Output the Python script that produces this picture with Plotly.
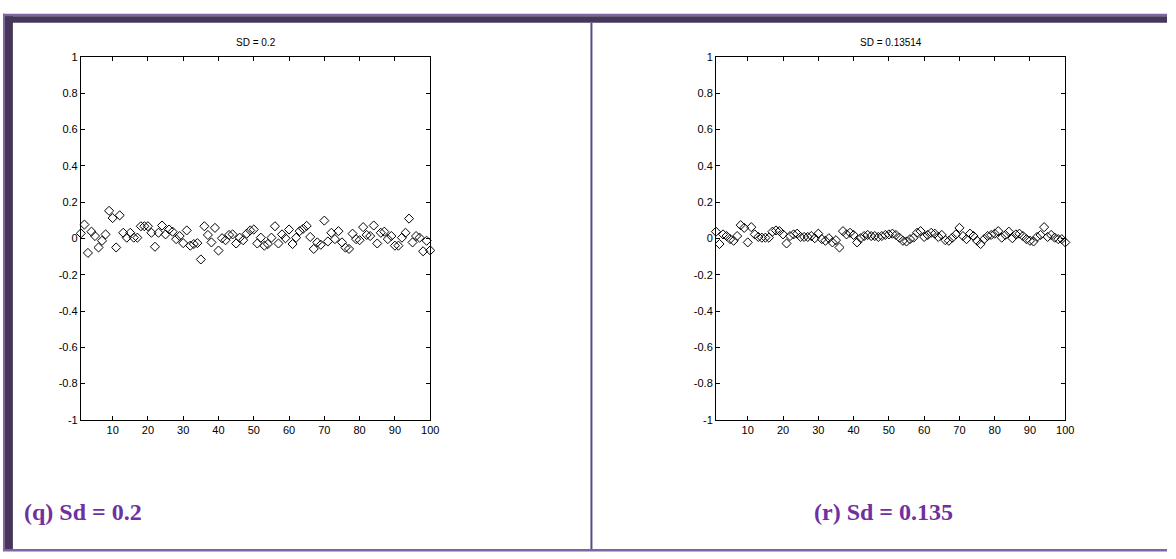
import plotly.graph_objects as go

# Sample index for both panels
idx = list(range(1, 101))

# Panel (q): SD = 0.2
sd_high = [
    0.028, 0.076, -0.080, 0.037, 0.013, -0.050, -0.013, 0.022, 0.152, 0.112,
    -0.050, 0.127, 0.031, 0.004, 0.031, 0.004, 0.004, 0.067, 0.067, 0.067,
    0.031, -0.046, 0.031, 0.071, 0.022, 0.049, 0.037, -0.004, 0.013, -0.026,
    0.044, -0.040, -0.031, -0.026, -0.116, 0.067, 0.019, -0.022, 0.058, -0.067,
    0.001, -0.010, 0.019, 0.022, -0.028, 0.004, -0.010, 0.026, 0.044, 0.049,
    -0.028, 0.004, -0.040, -0.031, 0.004, 0.067, -0.028, 0.022, 0.001, 0.049,
    -0.031, 0.004, 0.040, 0.053, 0.069, 0.008, -0.058, -0.022, -0.035, 0.098,
    -0.017, 0.031, -0.004, 0.040, -0.022, -0.051, -0.058, 0.026, -0.004, -0.010,
    0.062, 0.019, 0.013, 0.071, -0.028, 0.031, 0.037, -0.004, 0.013, -0.040,
    -0.040, 0.004, 0.031, 0.109, -0.022, 0.013, 0.004, -0.071, -0.013, -0.066,
]

# Panel (r): SD = 0.13514
sd_low = [
    0.037, -0.031, 0.022, 0.013, -0.004, -0.013, 0.013, 0.073, 0.058, -0.022,
    0.062, 0.022, 0.008, 0.004, 0.004, 0.004, 0.037, 0.044, 0.040, 0.022,
    -0.028, 0.013, 0.022, 0.026, 0.008, 0.008, 0.008, 0.013, 0.001, 0.026,
    -0.004, -0.013, 0.001, -0.022, -0.010, -0.050, 0.040, 0.022, 0.031, 0.019,
    -0.022, 0.001, 0.013, 0.019, 0.013, 0.013, 0.008, 0.013, 0.019, 0.022,
    0.026, 0.019, 0.004, -0.013, -0.017, -0.004, 0.004, 0.031, 0.040, 0.008,
    0.019, 0.031, 0.026, 0.008, 0.019, -0.010, -0.013, 0.004, 0.022, 0.058,
    0.013, -0.004, 0.026, 0.013, -0.013, -0.031, -0.004, 0.013, 0.019, 0.026,
    0.040, 0.004, 0.019, 0.037, 0.001, 0.022, 0.026, 0.013, -0.004, -0.013,
    -0.017, 0.008, 0.019, 0.062, 0.008, 0.019, 0.004, -0.004, -0.004, -0.022,
]

panel_titles = ["SD = 0.2", "SD = 0.13514"]
captions = ["(q) Sd = 0.2", "(r) Sd = 0.135"]

x_ticks = [10, 20, 30, 40, 50, 60, 70, 80, 90, 100]
y_ticks = [-1, -0.8, -0.6, -0.4, -0.2, 0, 0.2, 0.4, 0.6, 0.8, 1]
y_labels = ["-1", "-0.8", "-0.6", "-0.4", "-0.2", "0", "0.2", "0.4", "0.6", "0.8", "1"]

W, H = 1176, 559


def px(x):
    return x / W


def py(y):
    return (H - y) / H


fig = go.Figure()

marker = dict(symbol="diamond-open", size=7, color="black", line=dict(width=1, color="black"))
fig.add_trace(go.Scatter(x=idx, y=sd_high, mode="markers", marker=marker,
                         xaxis="x", yaxis="y", cliponaxis=False, showlegend=False))
fig.add_trace(go.Scatter(x=idx, y=sd_low, mode="markers", marker=marker,
                         xaxis="x2", yaxis="y2", cliponaxis=False, showlegend=False))

tick_font = dict(family="Liberation Sans, Arial, sans-serif", size=11, color="black")
axis_common = dict(showline=True, linecolor="black", linewidth=1, mirror="ticks",
                   ticks="inside", ticklen=4, tickcolor="black", tickwidth=1,
                   showgrid=False, zeroline=False, tickfont=tick_font)

y_dom = [py(423), py(52)]
fig.update_layout(
    width=W, height=H,
    margin=dict(l=0, r=0, t=0, b=0),
    paper_bgcolor="white", plot_bgcolor="white",
    xaxis=dict(domain=[px(81.5), px(433.5)], range=[1, 100], tickvals=x_ticks,
               anchor="y", **axis_common),
    yaxis=dict(domain=y_dom, range=[-1, 1], tickvals=y_ticks, ticktext=y_labels,
               anchor="x", **axis_common),
    xaxis2=dict(domain=[px(721.5), px(1073.5)], range=[1, 100], tickvals=x_ticks,
                anchor="y2", **axis_common),
    yaxis2=dict(domain=y_dom, range=[-1, 1], tickvals=y_ticks, ticktext=y_labels,
                anchor="x2", **axis_common),
)

# Panel titles above each axes box
for cx, t in zip([257.5, 897.5], panel_titles):
    fig.add_annotation(x=px(cx), y=py(37), xref="paper", yref="paper", text=t,
                       showarrow=False, xanchor="center", yanchor="middle",
                       font=dict(family="Liberation Sans, Arial, sans-serif", size=10, color="black"))

# Captions beneath each panel
cap_font = dict(family="Liberation Serif, Times New Roman, serif", size=24, color="#7030a0")
fig.add_annotation(x=px(22), y=py(517), xref="paper", yref="paper",
                   text="<b>%s</b>" % captions[0], showarrow=False,
                   xanchor="left", yanchor="middle", font=cap_font)
fig.add_annotation(x=px(890), y=py(517), xref="paper", yref="paper",
                   text="<b>%s</b>" % captions[1], showarrow=False,
                   xanchor="center", yanchor="middle", font=cap_font)

# Purple page frame: light outer line, dark inner band, centre divider
light = "#8064a2"
dark = "#46365a"
shapes = [
    dict(type="rect", x0=px(3), x1=px(W), y0=py(8), y1=py(10.5), fillcolor=light, line_width=0),
    dict(type="rect", x0=px(5), x1=px(W), y0=py(10.5), y1=py(17), fillcolor=dark, line_width=0),
    dict(type="rect", x0=px(3), x1=px(5), y0=py(557), y1=py(8), fillcolor=light, line_width=0),
    dict(type="rect", x0=px(5), x1=px(13), y0=py(555), y1=py(10.5), fillcolor=dark, line_width=0),
    dict(type="rect", x0=px(3), x1=px(W), y0=py(557.5), y1=py(555), fillcolor=light, line_width=0),
    dict(type="rect", x0=px(595), x1=px(597), y0=py(555), y1=py(17), fillcolor="#5a4880", line_width=0),
]
for s in shapes:
    s.update(xref="paper", yref="paper", layer="above")
fig.update_layout(shapes=shapes)

fig.write_html("out.html")
